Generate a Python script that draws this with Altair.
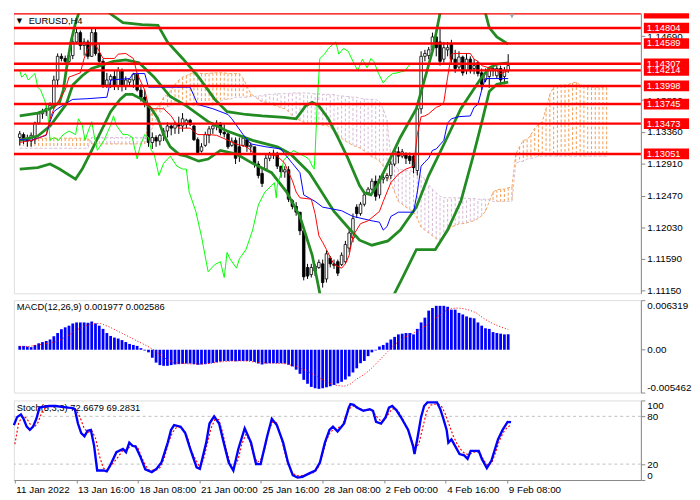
import altair as alt
import pandas as pd

# ---------------- candles (EURUSD H4) ----------------
bar_opens = [
    1.1328, 1.1332, 1.1325, 1.1323, 1.1328, 1.1348, 1.1361, 1.1364, 1.1368, 1.1373,
    1.1408, 1.1441, 1.1438, 1.1434, 1.1442, 1.1461, 1.1474, 1.1456, 1.1461, 1.1441,
    1.1474, 1.1445, 1.1434, 1.1401, 1.1408, 1.1413, 1.1400, 1.1421, 1.1400, 1.1405,
    1.1408, 1.1416, 1.1394, 1.1384, 1.1374, 1.1321, 1.1328, 1.1323, 1.1331, 1.1337,
    1.1344, 1.1341, 1.1346, 1.1344, 1.1346, 1.1352, 1.1344, 1.1325, 1.1309, 1.1317,
    1.1331, 1.1340, 1.1344, 1.1348, 1.1335, 1.1333, 1.1317, 1.1324, 1.1315, 1.1317,
    1.1325, 1.1315, 1.1315, 1.1291, 1.1278, 1.1284, 1.1299, 1.1304, 1.1306, 1.1288,
    1.1280, 1.1283, 1.1240, 1.1232, 1.1224, 1.1198, 1.1147, 1.1137, 1.1142, 1.1147,
    1.1152, 1.1131, 1.1160, 1.1152, 1.1155, 1.1151, 1.1155, 1.1174, 1.1188, 1.1231,
    1.1222, 1.1235, 1.1251, 1.1256, 1.1267, 1.1248, 1.1270, 1.1272, 1.1275, 1.1291,
    1.1308, 1.1302, 1.1306, 1.1302, 1.1302, 1.1282, 1.1368, 1.1441, 1.1442, 1.1450,
    1.1468, 1.1461, 1.1437, 1.1450, 1.1458, 1.1437, 1.1426, 1.1440, 1.1421, 1.1437,
    1.1424, 1.1432, 1.1418, 1.1408, 1.1413, 1.1421, 1.1414, 1.1424, 1.1413, 1.1421]
bar_highs = [
    1.1337, 1.1335, 1.1332, 1.1335, 1.1350, 1.1364, 1.1368, 1.1373, 1.1377, 1.1414,
    1.1445, 1.1445, 1.1442, 1.1448, 1.1466, 1.1480, 1.1477, 1.1466, 1.1464, 1.1480,
    1.1480, 1.1458, 1.1437, 1.1418, 1.1416, 1.1421, 1.1426, 1.1424, 1.1413, 1.1410,
    1.1418, 1.1418, 1.1402, 1.1394, 1.1376, 1.1335, 1.1331, 1.1333, 1.1341, 1.1349,
    1.1348, 1.1350, 1.1357, 1.1362, 1.1354, 1.1354, 1.1346, 1.1328, 1.1320, 1.1336,
    1.1344, 1.1349, 1.1352, 1.1349, 1.1346, 1.1336, 1.1328, 1.1328, 1.1328, 1.1331,
    1.1328, 1.1321, 1.1315, 1.1295, 1.1286, 1.1304, 1.1308, 1.1311, 1.1308, 1.1288,
    1.1288, 1.1288, 1.1242, 1.1238, 1.1224, 1.1202, 1.1152, 1.1152, 1.1152, 1.1158,
    1.1158, 1.1171, 1.1163, 1.1158, 1.1158, 1.1168, 1.1184, 1.1200, 1.1222, 1.1235,
    1.1238, 1.1251, 1.1259, 1.1271, 1.1275, 1.1275, 1.1278, 1.1278, 1.1295, 1.1313,
    1.1315, 1.1312, 1.1307, 1.1307, 1.1304, 1.1374, 1.1448, 1.1450, 1.1454, 1.1474,
    1.1472, 1.1482, 1.1461, 1.1461, 1.1464, 1.1450, 1.1448, 1.1442, 1.1445, 1.1441,
    1.1437, 1.1434, 1.1424, 1.1424, 1.1426, 1.1429, 1.1428, 1.1428, 1.1426, 1.1444]
bar_lows = [
    1.1317, 1.1319, 1.1315, 1.1315, 1.1319, 1.1346, 1.1354, 1.1358, 1.1354, 1.1368,
    1.1398, 1.1434, 1.1429, 1.1432, 1.1437, 1.1458, 1.1450, 1.1442, 1.1437, 1.1440,
    1.1442, 1.1432, 1.1397, 1.1397, 1.1397, 1.1394, 1.1394, 1.1392, 1.1394, 1.1400,
    1.1397, 1.1392, 1.1378, 1.1370, 1.1315, 1.1312, 1.1315, 1.1317, 1.1323, 1.1328,
    1.1331, 1.1333, 1.1333, 1.1336, 1.1341, 1.1344, 1.1323, 1.1304, 1.1307, 1.1315,
    1.1320, 1.1333, 1.1338, 1.1331, 1.1328, 1.1312, 1.1315, 1.1291, 1.1294, 1.1315,
    1.1308, 1.1307, 1.1286, 1.1271, 1.1259, 1.1282, 1.1295, 1.1298, 1.1284, 1.1272,
    1.1272, 1.1238, 1.1228, 1.1219, 1.1192, 1.1129, 1.1131, 1.1133, 1.1135, 1.1145,
    1.1119, 1.1126, 1.1147, 1.1145, 1.1135, 1.1149, 1.1152, 1.1168, 1.1182, 1.1216,
    1.1219, 1.1232, 1.1248, 1.1254, 1.1240, 1.1243, 1.1264, 1.1267, 1.1270, 1.1288,
    1.1292, 1.1299, 1.1291, 1.1291, 1.1278, 1.1275, 1.1361, 1.1434, 1.1437, 1.1445,
    1.1441, 1.1428, 1.1432, 1.1441, 1.1432, 1.1418, 1.1421, 1.1414, 1.1416, 1.1417,
    1.1416, 1.1413, 1.1394, 1.1405, 1.1397, 1.1413, 1.1410, 1.1400, 1.1402, 1.1418]
bar_closes = [
    1.1333, 1.1325, 1.1323, 1.1331, 1.1348, 1.1361, 1.1364, 1.1368, 1.1373, 1.1408,
    1.1441, 1.1438, 1.1434, 1.1442, 1.1461, 1.1474, 1.1456, 1.1461, 1.1441, 1.1474,
    1.1445, 1.1434, 1.1401, 1.1408, 1.1413, 1.1400, 1.1421, 1.1400, 1.1408, 1.1409,
    1.1416, 1.1394, 1.1384, 1.1374, 1.1321, 1.1328, 1.1323, 1.1331, 1.1337, 1.1344,
    1.1341, 1.1346, 1.1344, 1.1354, 1.1352, 1.1346, 1.1325, 1.1307, 1.1315, 1.1332,
    1.1340, 1.1344, 1.1348, 1.1335, 1.1333, 1.1315, 1.1323, 1.1299, 1.1302, 1.1327,
    1.1315, 1.1317, 1.1291, 1.1275, 1.1264, 1.1299, 1.1304, 1.1306, 1.1288, 1.1280,
    1.1283, 1.1242, 1.1232, 1.1224, 1.1198, 1.1134, 1.1135, 1.1147, 1.1149, 1.1154,
    1.1126, 1.1166, 1.1152, 1.1150, 1.1139, 1.1164, 1.1179, 1.1195, 1.1215, 1.1222,
    1.1235, 1.1248, 1.1256, 1.1267, 1.1246, 1.1270, 1.1272, 1.1275, 1.1291, 1.1309,
    1.1302, 1.1308, 1.1299, 1.1296, 1.1286, 1.1368, 1.1441, 1.1445, 1.1450, 1.1468,
    1.1453, 1.1434, 1.1453, 1.1453, 1.1437, 1.1424, 1.1440, 1.1418, 1.1437, 1.1421,
    1.1428, 1.1417, 1.1402, 1.1418, 1.1421, 1.1424, 1.1424, 1.1408, 1.1421, 1.1428]

# ---------------- Ichimoku cloud (per bar, shifted 26 ahead) ----------------
span_a = [
    1.1327, 1.1327, 1.1327, 1.1327, 1.1327, 1.1327, 1.1327, 1.1327, 1.1327, 1.1327,
    1.1327, 1.1327, 1.1327, 1.1327, 1.1327, 1.1327, 1.1327, 1.1327, 1.1327, 1.1319,
    1.1319, 1.1319, 1.1319, 1.1319, 1.1319, 1.1319, 1.1319, 1.1319, 1.1319, 1.1319,
    1.1319, 1.1319, 1.1319, 1.1319, 1.1354, 1.1362, 1.1368, 1.1374, 1.1384, 1.1388,
    1.1394, 1.1402, 1.1408, 1.1412, 1.1414, 1.1417, 1.1418, 1.1418, 1.1417, 1.1417,
    1.1417, 1.1418, 1.1418, 1.1418, 1.1418, 1.1417, 1.1417, 1.1417, 1.1417, 1.1410,
    1.1400, 1.1389, 1.1385, 1.1381, 1.1378, 1.1377, 1.1374, 1.1373, 1.1372, 1.1369,
    1.1368, 1.1364, 1.1358, 1.1354, 1.1352, 1.1349, 1.1348, 1.1348, 1.1346, 1.1346,
    1.1345, 1.1345, 1.1342, 1.1337, 1.1332, 1.1327, 1.1323, 1.1320, 1.1317, 1.1315,
    1.1313, 1.1309, 1.1305, 1.1301, 1.1299, 1.1295, 1.1288, 1.1275, 1.1265, 1.1252,
    1.1239, 1.1235, 1.1231, 1.1228, 1.1224, 1.1215, 1.1203, 1.1199, 1.1195, 1.1191,
    1.1187, 1.1185, 1.1189, 1.1197, 1.1204, 1.1205, 1.1208, 1.1208, 1.1209, 1.1211,
    1.1212, 1.1215, 1.1219, 1.1225, 1.1239, 1.1252, 1.1255, 1.1256, 1.1256, 1.1258,
    1.1259, 1.1305, 1.1315, 1.1324, 1.1325, 1.1332, 1.1341, 1.1346, 1.1350, 1.1368,
    1.1388, 1.1398, 1.1400, 1.1401, 1.1401, 1.1402, 1.1404, 1.1405, 1.1401, 1.1400,
    1.1398, 1.1398, 1.1398, 1.1398, 1.1398, 1.1398]
span_b = [
    1.1313, 1.1313, 1.1313, 1.1313, 1.1313, 1.1313, 1.1313, 1.1313, 1.1313, 1.1313,
    1.1313, 1.1313, 1.1313, 1.1313, 1.1313, 1.1313, 1.1313, 1.1313, 1.1313, 1.1328,
    1.1328, 1.1328, 1.1328, 1.1328, 1.1328, 1.1328, 1.1328, 1.1328, 1.1328, 1.1328,
    1.1328, 1.1328, 1.1328, 1.1328, 1.1332, 1.1341, 1.1352, 1.1361, 1.1368, 1.1370,
    1.1373, 1.1374, 1.1374, 1.1374, 1.1373, 1.1373, 1.1372, 1.1372, 1.1372, 1.1372,
    1.1372, 1.1373, 1.1376, 1.1378, 1.1381, 1.1381, 1.1382, 1.1384, 1.1384, 1.1384,
    1.1384, 1.1385, 1.1385, 1.1386, 1.1386, 1.1388, 1.1388, 1.1388, 1.1389, 1.1389,
    1.1389, 1.1389, 1.1390, 1.1390, 1.1390, 1.1390, 1.1390, 1.1389, 1.1389, 1.1389,
    1.1388, 1.1388, 1.1388, 1.1388, 1.1386, 1.1386, 1.1385, 1.1385, 1.1384, 1.1384,
    1.1382, 1.1382, 1.1381, 1.1381, 1.1381, 1.1378, 1.1368, 1.1352, 1.1301, 1.1288,
    1.1284, 1.1283, 1.1282, 1.1282, 1.1280, 1.1279, 1.1275, 1.1270, 1.1262, 1.1256,
    1.1251, 1.1246, 1.1244, 1.1244, 1.1244, 1.1244, 1.1244, 1.1244, 1.1243, 1.1243,
    1.1243, 1.1242, 1.1242, 1.1242, 1.1242, 1.1239, 1.1239, 1.1239, 1.1239, 1.1239,
    1.1239, 1.1292, 1.1294, 1.1295, 1.1298, 1.1299, 1.1300, 1.1302, 1.1302, 1.1302,
    1.1302, 1.1302, 1.1302, 1.1302, 1.1302, 1.1302, 1.1302, 1.1302, 1.1302, 1.1302,
    1.1302, 1.1302, 1.1302, 1.1302, 1.1302, 1.1302]

# ---------------- indicator lines: (bar, price) ----------------
tenkan = [(0, 1.1321), (4, 1.1325), (7, 1.1332), (8, 1.1354), (9, 1.1368), (10, 1.1377),
          (12, 1.1394), (13, 1.1412), (16, 1.1418), (17, 1.1438), (18, 1.1452), (19, 1.1457),
          (20, 1.1457), (21, 1.1448), (22, 1.1438), (25, 1.1438), (26, 1.1444), (28, 1.1445),
          (30, 1.1438), (31, 1.1417), (33, 1.1394), (34, 1.1372), (35, 1.1368), (38, 1.1368),
          (40, 1.1358), (42, 1.1341), (45, 1.1341), (47, 1.1332), (50, 1.1332), (52, 1.1331),
          (55, 1.1324), (57, 1.1319), (60, 1.1315), (62, 1.1305), (65, 1.1305), (68, 1.1302),
          (70, 1.1292), (71, 1.1279), (72, 1.1268), (73, 1.1252), (74, 1.1244), (77, 1.1242),
          (78, 1.1222), (79, 1.1191), (80, 1.1182), (81, 1.1172), (83, 1.1151), (85, 1.1146),
          (86, 1.1152), (87, 1.1164), (88, 1.1191), (90, 1.1208), (92, 1.1212), (95, 1.1225),
          (96, 1.1239), (98, 1.1265), (100, 1.1277), (102, 1.1284), (104, 1.1288), (105, 1.1332),
          (106, 1.1357), (107, 1.1358), (108, 1.1361), (110, 1.1370), (111, 1.1372), (112, 1.1377),
          (113, 1.1412), (114, 1.1444), (115, 1.1445), (119, 1.1445), (120, 1.1437), (121, 1.1434),
          (122, 1.1428), (124, 1.1425), (126, 1.1421), (127, 1.1417), (129, 1.1421)]
kijun = [(0, 1.1325), (3, 1.1324), (7, 1.1331), (8, 1.1350), (9, 1.1364), (10, 1.1368),
         (13, 1.1378), (14, 1.1381), (18, 1.1382), (23, 1.1384), (24, 1.1408), (29, 1.1410),
         (30, 1.1417), (33, 1.1417), (34, 1.1398), (45, 1.1398), (47, 1.1374), (51, 1.1368),
         (55, 1.1360), (56, 1.1354), (59, 1.1332), (61, 1.1319), (65, 1.1315), (69, 1.1312),
         (70, 1.1305), (72, 1.1292), (74, 1.1279), (75, 1.1248), (78, 1.1239), (80, 1.1231),
         (85, 1.1226), (88, 1.1218), (93, 1.1212), (95, 1.1210), (96, 1.1199), (97, 1.1204),
         (98, 1.1218), (100, 1.1224), (104, 1.1224), (105, 1.1252), (106, 1.1288), (107, 1.1294),
         (108, 1.1299), (109, 1.1310), (110, 1.1312), (112, 1.1324), (113, 1.1348), (114, 1.1354),
         (116, 1.1357), (119, 1.1358), (120, 1.1370), (121, 1.1374), (122, 1.1394), (123, 1.1410),
         (129, 1.1410)]
chikou = [(0, 1.1421), (0.5, 1.1412), (1.5, 1.1417), (2.25, 1.1408), (3, 1.1412), (4, 1.1417),
          (4.75, 1.1398), (5.5, 1.1394), (6.5, 1.1381), (7.25, 1.1368), (7.75, 1.1341), (8, 1.1324),
          (9, 1.1328), (10.25, 1.1324), (11.5, 1.1332), (13, 1.1337), (14.75, 1.1332), (15.5, 1.1354),
          (16.5, 1.1345), (17.25, 1.1324), (17.75, 1.1332), (19, 1.1350), (19.75, 1.1328), (20.5, 1.1310),
          (22.25, 1.1324), (24, 1.1345), (24.75, 1.1358), (25.5, 1.1345), (27.25, 1.1332), (28.5, 1.1332),
          (29.75, 1.1328), (30.25, 1.1315), (31, 1.1298), (31.75, 1.1315), (33, 1.1332), (34, 1.1328),
          (34.75, 1.1310), (35.5, 1.1305), (36.75, 1.1275), (38, 1.1292), (39.75, 1.1302), (41.5, 1.1288),
          (43, 1.1284), (44, 1.1284), (44.75, 1.1252), (46.5, 1.1225), (48, 1.1190), (49.75, 1.1141),
          (51.5, 1.1151), (53, 1.1155), (54, 1.1133), (54.75, 1.1168), (55.5, 1.1159), (57.25, 1.1146),
          (58, 1.1159), (59.75, 1.1172), (61.5, 1.1199), (63, 1.1234), (64.75, 1.1252), (66.5, 1.1261),
          (67.25, 1.1265), (67.75, 1.1244), (68, 1.1261), (69, 1.1278), (69.75, 1.1297), (71.5, 1.1305),
          (72.25, 1.1310), (74, 1.1305), (75.5, 1.1301), (76.5, 1.1297), (77.25, 1.1288), (77.75, 1.1284),
          (78, 1.1305), (78.5, 1.1368), (79.25, 1.1438), (80.5, 1.1444), (81.5, 1.1452), (82.75, 1.1458),
          (83.5, 1.1461), (84.25, 1.1444), (85.5, 1.1452), (86.75, 1.1448), (88, 1.1434), (89.25, 1.1421),
          (90.5, 1.1437), (91.75, 1.1425), (92.75, 1.1438), (93.5, 1.1434), (94.75, 1.1417), (96, 1.1404),
          (97.25, 1.1412), (98.5, 1.1417), (99.75, 1.1418), (101.75, 1.1421), (102.75, 1.1428), (103, 1.1428)]
bb_upper = [(0, 1.1358), (4.75, 1.1362), (8, 1.1368), (10.5, 1.1377), (11.5, 1.1394), (12.25, 1.1421),
            (13.5, 1.1461), (14.75, 1.1488), (16, 1.1508), (19.75, 1.1517), (22.25, 1.1508), (24, 1.1500),
            (27.25, 1.1488), (32.25, 1.1485), (36.5, 1.1484), (39, 1.1461), (43, 1.1438), (47.25, 1.1412),
            (49.75, 1.1394), (51.5, 1.1381), (54.75, 1.1364), (59.75, 1.1360), (64, 1.1358), (69.75, 1.1356),
            (73, 1.1354), (75.5, 1.1372), (77.25, 1.1377), (79, 1.1372), (81.5, 1.1354), (84, 1.1328),
            (86.5, 1.1301), (89.75, 1.1261), (91, 1.1251), (92.75, 1.1248), (94.75, 1.1265), (97.25, 1.1292),
            (100.5, 1.1328), (104.75, 1.1368), (109, 1.1448), (111, 1.1501), (113.5, 1.1528), (119.75, 1.1528),
            (122.25, 1.1508), (123, 1.1501), (124, 1.1481), (126, 1.1468), (129, 1.1458)]
bb_middle = [(0, 1.1324), (4.75, 1.1330), (8, 1.1344), (12.25, 1.1374), (14, 1.1401), (16.5, 1.1414),
             (19, 1.1424), (24.75, 1.1434), (28, 1.1436), (31.5, 1.1432), (35.5, 1.1412), (39.75, 1.1385),
             (44, 1.1372), (49.75, 1.1350), (54.75, 1.1337), (61.5, 1.1324), (68, 1.1315), (71.5, 1.1305),
             (76.5, 1.1279), (79.75, 1.1252), (83, 1.1225), (86.5, 1.1204), (89.75, 1.1185), (93, 1.1178),
             (97.25, 1.1184), (100.5, 1.1199), (103, 1.1218), (104.75, 1.1231), (108, 1.1275), (112.25, 1.1321),
             (116.5, 1.1368), (121.5, 1.1408), (124, 1.1425), (126, 1.1430), (129, 1.1432)]
bb_lower = [(0, 1.1284), (4.75, 1.1286), (8, 1.1291), (10.5, 1.1284), (14.75, 1.1270), (16.5, 1.1284),
            (19, 1.1310), (21.5, 1.1337), (24, 1.1364), (26.5, 1.1381), (28, 1.1388), (29.75, 1.1388),
            (32.25, 1.1381), (34.75, 1.1368), (36.5, 1.1354), (38, 1.1332), (39.75, 1.1315), (42.25, 1.1304),
            (44, 1.1302), (47.25, 1.1295), (49.75, 1.1298), (53, 1.1310), (57.25, 1.1305), (61.5, 1.1292),
            (66.5, 1.1279), (70.5, 1.1252), (74, 1.1218), (77.25, 1.1164), (79.25, 1.1111), (81, 1.1081),
            (87.25, 1.1054), (94.75, 1.1068), (99, 1.1111), (101.5, 1.1137), (104.75, 1.1172), (109.75, 1.1172),
            (113, 1.1199), (116.5, 1.1239), (119.75, 1.1302), (122.25, 1.1354), (124, 1.1392), (126, 1.1402),
            (129, 1.1405)]

levels = [1.15011, 1.14804, 1.14589, 1.14307, 1.14214, 1.13998, 1.13745, 1.13473, 1.13051]
price_ticks = [1.1115, 1.1159, 1.1203, 1.1247, 1.1291, 1.1336, 1.1380, 1.1469]

# ---------------- MACD(12,26,9) ----------------
macd_hist = [
    0.00049, 0.00049, 0.00041, 0.00033, 0.00061, 0.00082, 0.00098, 0.00110, 0.00131, 0.00172,
    0.00213, 0.00262, 0.00286, 0.00307, 0.00335, 0.00348, 0.00348, 0.00348, 0.00344, 0.00360,
    0.00335, 0.00307, 0.00266, 0.00213, 0.00176, 0.00155, 0.00143, 0.00123, 0.00098, 0.00074,
    0.00061, 0.00049, 0.00020, -0.00010, -0.00033, -0.00102, -0.00164, -0.00196, -0.00205, -0.00205,
    -0.00196, -0.00188, -0.00184, -0.00180, -0.00176, -0.00176, -0.00184, -0.00192, -0.00188, -0.00184,
    -0.00176, -0.00168, -0.00160, -0.00151, -0.00143, -0.00143, -0.00143, -0.00147, -0.00143, -0.00143,
    -0.00143, -0.00143, -0.00155, -0.00176, -0.00188, -0.00176, -0.00172, -0.00172, -0.00172, -0.00172,
    -0.00176, -0.00192, -0.00213, -0.00254, -0.00307, -0.00384, -0.00434, -0.00474, -0.00491, -0.00499,
    -0.00491, -0.00479, -0.00466, -0.00450, -0.00429, -0.00409, -0.00380, -0.00340, -0.00290, -0.00237,
    -0.00172, -0.00143, -0.00082, -0.00033, -0.00008, 0.00041, 0.00061, 0.00090, 0.00131, 0.00164,
    0.00196, 0.00205, 0.00213, 0.00213, 0.00196, 0.00266, 0.00348, 0.00409, 0.00499, 0.00532,
    0.00560, 0.00560, 0.00560, 0.00548, 0.00511, 0.00511, 0.00470, 0.00450, 0.00425, 0.00409,
    0.00401, 0.00348, 0.00307, 0.00274, 0.00266, 0.00225, 0.00213, 0.00205, 0.00196, 0.001977]
macd_signal = [(0, 0.00041), (2.25, 0.00041), (4.75, 0.00061), (7.25, 0.00082), (9.75, 0.00102),
               (12.25, 0.00164), (14.75, 0.00245), (17.25, 0.00307), (19.75, 0.00335), (21.4, 0.00335),
               (23.9, 0.00286), (26.4, 0.00225), (28.9, 0.00164), (31.4, 0.00102), (33.9, 0.00041),
               (35.6, -0.00008), (38.1, -0.00102), (40.6, -0.00164), (43.1, -0.00176), (46.4, -0.00184),
               (49.75, -0.00176), (53.1, -0.00155), (56.4, -0.00143), (59.75, -0.00143), (63.1, -0.00164),
               (66.4, -0.00172), (69.75, -0.00176), (73.1, -0.00213), (75.6, -0.00266), (78.1, -0.00327),
               (80.6, -0.00401), (83.1, -0.00450), (85.6, -0.00466), (87.25, -0.00440), (88.9, -0.00376),
               (90.6, -0.00327), (92.25, -0.00266), (94, -0.00184), (95.6, -0.00102), (97.25, -0.00020),
               (98.9, 0.00061), (100.6, 0.00123), (102.25, 0.00172), (103.9, 0.00213), (105.6, 0.00254),
               (107.25, 0.00307), (108.9, 0.00368), (110.6, 0.00429), (112.25, 0.00491), (113.9, 0.00524),
               (115.6, 0.00532), (117.25, 0.00524), (118.9, 0.00503), (120.6, 0.00470), (122.25, 0.00409),
               (123.9, 0.00360), (125.6, 0.00319), (127.25, 0.00286), (129, 0.002586)]
macd_ticks = [-0.005462, 0.0, 0.006319]

# ---------------- Stochastic(5,3,3) ----------------
stoch_main = [(-0.25, 69), (0.58, 79), (1.58, 82.5), (2.25, 77), (3.08, 67), (3.9, 63), (4.75, 67),
              (5.6, 77), (6.4, 91), (7.25, 92), (8.9, 93), (10.6, 93), (12.25, 92), (13.9, 91),
              (14.75, 90.6), (15.6, 89), (16.4, 71), (17.25, 59), (18.1, 55), (18.9, 62), (19.75, 63),
              (20.6, 43), (21.4, 12), (23.1, 12), (23.9, 11), (24.75, 18), (26.4, 35), (28.1, 39),
              (28.9, 35), (29.75, 47), (30.6, 43), (31.4, 42), (32.7, 28.5), (33.9, 13.5), (35.6, 10),
              (36.8, 14), (38.1, 22), (39.75, 47), (40.6, 63), (41.4, 69), (43.1, 67), (44.3, 59),
              (45.6, 39), (47.25, 16), (48.1, 14), (49.75, 47), (50.6, 71), (51.8, 80), (53.1, 71),
              (54.3, 47), (55.6, 22), (56.8, 12), (58.1, 39), (59.75, 65), (61.4, 47), (62.7, 20),
              (63.9, 20), (65.6, 55), (66.8, 77), (68.1, 69), (69.75, 47), (71, 22), (72.25, 6),
              (73.5, 3), (74.75, 4), (76.4, 8), (78.1, 12), (79.3, 22), (80.6, 47), (81.8, 63),
              (82.7, 67), (83.9, 61), (85.6, 71), (86.8, 91), (87.25, 95.5), (88.1, 94.6), (88.9, 91),
              (90.6, 87), (92.25, 89), (93.1, 87), (93.9, 73), (95.2, 71), (96.4, 79), (97.25, 91),
              (98.1, 93), (99.3, 87), (100.6, 77), (102.25, 63), (103.5, 43), (103.9, 32.6),
              (104.75, 55), (105.6, 79), (106.4, 93), (107.25, 97.5), (109.75, 97.5), (110.6, 89),
              (111.4, 77), (112.25, 63), (112.7, 47), (113.5, 51), (113.9, 47.6), (115.6, 32.6),
              (116.8, 31), (117.7, 26.5), (118.5, 36.6), (120.6, 36.6), (121.4, 26.5), (122.7, 15),
              (123.9, 24.5), (125.6, 51), (126.8, 63), (128.1, 73), (129, 72.67)]
stoch_signal = [(0, 45), (1, 72), (2, 80), (3, 78), (4, 70), (5, 66), (6, 72), (7, 85), (8, 91), (10, 93),
                (12, 92), (14, 91), (16, 88), (17, 78), (18, 65), (19, 60), (20, 62), (21, 52), (22, 30),
                (23, 15), (24, 13), (25, 18), (27, 30), (28, 37), (29, 38), (30, 42), (31, 44), (32, 40),
                (33, 28), (34, 18), (35, 12), (37, 13), (38, 17), (39, 30), (40, 48), (41, 60), (42, 66),
                (43, 66), (44, 63), (45, 52), (46, 35), (48, 17), (49, 25), (50, 45), (51, 65), (52, 76),
                (53, 76), (54, 60), (55, 38), (56, 20), (57, 16), (58, 25), (59, 45), (60, 57), (61, 50),
                (62, 33), (63, 22), (64, 26), (65, 40), (66, 62), (67, 73), (68, 72), (69, 58), (70, 38),
                (71, 20), (72, 10), (73, 6), (74, 5), (76, 7), (78, 10), (79, 17), (80, 32), (81, 50),
                (82, 60), (83, 64), (84, 66), (85, 67), (86, 80), (87, 90), (88, 93), (89, 92), (90, 89),
                (91, 88), (93, 87), (94, 80), (95, 75), (96, 75), (97, 82), (98, 89), (99, 90), (100, 84),
                (101, 75), (102, 65), (103, 52), (104, 40), (105, 45), (106, 65), (107, 85), (108, 94),
                (110, 96), (111, 92), (112, 82), (113, 68), (114, 55), (115, 45), (116, 38), (117, 33),
                (118, 32), (119, 34), (120, 36), (121, 33), (122, 24), (123, 18), (124, 22), (125, 35),
                (126, 50), (127, 60), (128, 66), (129, 69.28)]
stoch_levels = [20, 80]
stoch_ticks = [0, 20, 80, 100]

# ---------------- time axis ----------------
date_ticks = [0, 16, 32, 48, 64, 80, 96, 112, 128]
date_labels = ["11 Jan 2022", "13 Jan 16:00", "18 Jan 08:00", "21 Jan 00:00", "25 Jan 16:00",
               "28 Jan 08:00", "2 Feb 00:00", "4 Feb 16:00", "9 Feb 08:00"]

# ================= build =================
W = 638
H_MAIN, H_MACD, H_STOCH = 285, 94, 81
FONT = "Liberation Sans"
FS = 9.5

xs = alt.Scale(domain=[-0.25, 162.75], nice=False, zero=False)
ps = alt.Scale(domain=[1.1111, 1.1501], nice=False, zero=False)
ms = alt.Scale(domain=[macd_ticks[0], macd_ticks[-1]], nice=False, zero=False)
ss = alt.Scale(domain=[0, 100], nice=False, zero=False)

price_axis = alt.Axis(orient="right", values=price_ticks, format=".5f", title=None, grid=False,
                      tickSize=4, labelPadding=2, labelOverlap=False)
macd_label_expr = ("datum.value > 0 ? '0.006319' : (datum.value < 0 ? '-0.005462' : '0.00')")
macd_axis = alt.Axis(orient="right", values=macd_ticks, labelExpr=macd_label_expr, title=None,
                     grid=False, tickSize=4, labelPadding=2, labelFlush=True, labelOverlap=False)
stoch_axis = alt.Axis(orient="right", values=stoch_ticks, format="d", title=None, grid=False,
                      tickSize=4, labelPadding=2, labelFlush=True, labelOverlap=False)
label_js = "[" + ",".join("'" + s + "'" for s in date_labels) + "]"
time_axis = alt.Axis(values=date_ticks, labelExpr=label_js + "[round(datum.value/16)]",
                     title=None, grid=False, tickSize=3, labelAlign="left", labelOffset=1,
                     labelPadding=2, labelOverlap=False)


def X(axis=None):
    return alt.X("bar:Q", scale=xs, axis=axis, title=None)


def PY(f):
    return alt.Y(f + ":Q", scale=ps, axis=price_axis, title=None)


def MY(f):
    return alt.Y(f + ":Q", scale=ms, axis=macd_axis, title=None)


def SY(f):
    return alt.Y(f + ":Q", scale=ss, axis=stoch_axis, title=None)


candles = pd.DataFrame({"bar": list(range(len(bar_opens))), "open": bar_opens, "high": bar_highs,
                        "low": bar_lows, "close": bar_closes})
candles["fill"] = ["#ffffff" if c >= o else "#000000" for o, c in zip(bar_opens, bar_closes)]

cloud = pd.DataFrame({"bar": list(range(len(span_a))), "a": span_a, "b": span_b})
cloud["col"] = ["#F4A460" if a >= b else "#D8BFD8" for a, b in zip(span_a, span_b)]


def ldf(pairs, name=None):
    d = pd.DataFrame(pairs, columns=["bar", "v"])
    if name is not None:
        d["band"] = name
    return d


bb = pd.concat([ldf(bb_upper, "u"), ldf(bb_middle, "m"), ldf(bb_lower, "l")], ignore_index=True)
lv = pd.DataFrame({"level": levels})

hatch = alt.Chart(cloud).mark_rule(strokeWidth=1.1, strokeDash=[3, 2]).encode(
    x=X(), y=PY("a"), y2="b", color=alt.Color("col:N", scale=None))
edge_a = alt.Chart(cloud).mark_line(color="#F4A460", strokeWidth=1, strokeDash=[3, 2]).encode(x=X(), y=PY("a"))
edge_b = alt.Chart(cloud).mark_line(color="#D8BFD8", strokeWidth=1, strokeDash=[3, 2]).encode(x=X(), y=PY("b"))
wicks = alt.Chart(candles).mark_rule(color="black", strokeWidth=1).encode(x=X(), y=PY("low"), y2="high")
bodies = alt.Chart(candles).mark_bar(width=2.6, stroke="black", strokeWidth=0.8).encode(
    x=X(), y=PY("open"), y2="close", fill=alt.Fill("fill:N", scale=None))
bands = alt.Chart(bb).mark_line(color="#228B22", strokeWidth=2.8, clip=True).encode(
    x=X(), y=PY("v"), detail="band:N")
chik = alt.Chart(ldf(chikou)).mark_line(color="#00ff00", strokeWidth=1, clip=True).encode(x=X(), y=PY("v"))
kij = alt.Chart(ldf(kijun)).mark_line(color="#0000ff", strokeWidth=1).encode(x=X(), y=PY("v"))
ten = alt.Chart(ldf(tenkan)).mark_line(color="#ff0000", strokeWidth=1).encode(x=X(), y=PY("v"))
level_lines = alt.Chart(lv).mark_rule(color="#ff0000", strokeWidth=2.5, clip=True).encode(y=PY("level"))
level_boxes = alt.Chart(lv).transform_calculate(
    hi="min(datum.level + 0.00074, 1.1501)", lo="datum.level - 0.00074"
).mark_rect(color="#ff0000").encode(x=alt.value(W + 3), x2=alt.value(W + 49), y=PY("hi"), y2="lo")
level_text = alt.Chart(lv).transform_filter("datum.level < 1.1500").mark_text(
    align="left", baseline="middle", color="white", fontSize=FS, font=FONT
).encode(x=alt.value(W + 6), y=PY("level"), text=alt.Text("level:Q", format=".5f"))
shift_mark = alt.Chart(pd.DataFrame({"bar": [130]})).mark_point(
    shape="triangle-down", filled=True, color="#a8a8a8", size=30, opacity=1).encode(x=X(), y=alt.value(3))
tri = alt.Chart(pd.DataFrame({"t": ["\u25bc"]})).mark_text(
    align="left", baseline="middle", fontSize=7, font="DejaVu Sans", color="black"
).encode(x=alt.value(3), y=alt.value(8), text="t:N")
title = alt.Chart(pd.DataFrame({"t": ["EURUSD,H4"]})).mark_text(
    align="left", baseline="middle", fontSize=FS, font=FONT, color="black"
).encode(x=alt.value(15), y=alt.value(8), text="t:N")

main = alt.layer(hatch, edge_a, edge_b, wicks, bodies, bands, chik, kij, ten,
                 level_lines, level_boxes, level_text, shift_mark, tri, title
                 ).properties(width=W, height=H_MAIN)

macd_df = pd.DataFrame({"bar": list(range(len(macd_hist))), "v": macd_hist})
macd_lab = alt.Chart(pd.DataFrame({"t": ["MACD(12,26,9) 0.001977 0.002586"]})).mark_text(
    align="left", baseline="middle", fontSize=FS, font=FONT, color="black"
).encode(x=alt.value(3), y=alt.value(7), text="t:N")
macd_bars = alt.Chart(macd_df).mark_bar(width=2.8, color="#0000ff").encode(
    x=X(), y=MY("v"), y2=alt.datum(0))
macd_sig = alt.Chart(ldf(macd_signal)).mark_line(color="#ff0000", strokeWidth=1, strokeDash=[1, 2]).encode(
    x=X(), y=MY("v"))
macd = alt.layer(macd_lab, macd_bars, macd_sig).properties(width=W, height=H_MACD)

st_lab = alt.Chart(pd.DataFrame({"t": ["Stoch(5,3,3) 72.6679 69.2831"]})).mark_text(
    align="left", baseline="middle", fontSize=FS, font=FONT, color="black"
).encode(x=alt.value(3), y=alt.value(8), text="t:N")
st_lv = alt.Chart(pd.DataFrame({"lvl": stoch_levels})).mark_rule(
    color="#c0c0c0", strokeDash=[3, 3], strokeWidth=1).encode(y=SY("lvl"))
st_sig = alt.Chart(ldf(stoch_signal)).mark_line(color="#ff0000", strokeWidth=1.2, strokeDash=[2, 2]).encode(
    x=X(time_axis), y=SY("v"))
st_main = alt.Chart(ldf(stoch_main)).mark_line(color="#0000ff", strokeWidth=2.4).encode(
    x=X(time_axis), y=SY("v"))
stoch = alt.layer(st_lab, st_lv, st_sig, st_main).properties(width=W, height=H_STOCH)

chart = alt.vconcat(main, macd, stoch, spacing=3).properties(
    padding=0, background="white"
).configure_view(stroke="black", strokeWidth=1).configure_axis(
    labelFont=FONT, labelFontSize=FS, labelColor="black", tickColor="black", domainColor="black",
    domainWidth=1, tickWidth=1
).configure(font=FONT, padding=0)

chart.save("out.html", embed_options={"renderer": "svg", "actions": False})
